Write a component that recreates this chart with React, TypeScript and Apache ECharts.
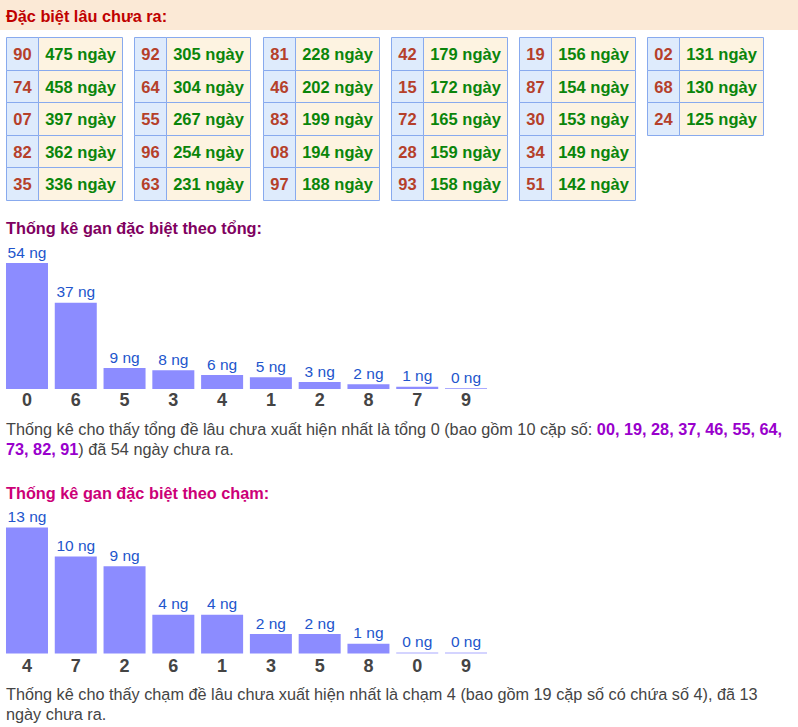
import React, { useEffect, useRef } from "react";
import * as echarts from "echarts";

const headerTitle = "Đặc biệt lâu chưa ra:";
const tableNumbers = [
  ["90", "74", "07", "82", "35"],
  ["92", "64", "55", "96", "63"],
  ["81", "46", "83", "08", "97"],
  ["42", "15", "72", "28", "93"],
  ["19", "87", "30", "34", "51"],
  ["02", "68", "24"],
];
const tableDays = [
  [475, 458, 397, 362, 336],
  [305, 304, 267, 254, 231],
  [228, 202, 199, 194, 188],
  [179, 172, 165, 159, 158],
  [156, 154, 153, 149, 142],
  [131, 130, 125],
];

const tongTitle = "Thống kê gan đặc biệt theo tổng:";
const tongCategories = ["0", "6", "5", "3", "4", "1", "2", "8", "7", "9"];
const tongValues = [54, 37, 9, 8, 6, 5, 3, 2, 1, 0];
const tongLine1 = "Thống kê cho thấy tổng đề lâu chưa xuất hiện nhất là tổng 0 (bao gồm 10 cặp số: ";
const tongPairs1 = "00, 19, 28, 37, 46, 55, 64,";
const tongPairs2 = "73, 82, 91";
const tongLine2 = ") đã 54 ngày chưa ra.";

const chamTitle = "Thống kê gan đặc biệt theo chạm:";
const chamCategories = ["4", "7", "2", "6", "1", "3", "5", "8", "0", "9"];
const chamValues = [13, 10, 9, 4, 4, 2, 2, 1, 0, 0];
const chamLine1 = "Thống kê cho thấy chạm đề lâu chưa xuất hiện nhất là chạm 4 (bao gồm 19 cặp số có chứa số 4), đã 13";
const chamLine2 = "ngày chưa ra.";

const FONT = "'Liberation Sans', Arial, sans-serif";

export default function App() {
  const ref = useRef<HTMLDivElement>(null);
  useEffect(() => {
    if (!ref.current) return;
    const chart = echarts.init(ref.current, null, { renderer: "svg" });

    const cells: { t: number; r: number; num: string; days: number }[] = [];
    tableNumbers.forEach((col, t) =>
      col.forEach((num, r) => cells.push({ t, r, num, days: tableDays[t][r] }))
    );

    const barSeries = (values: number[], idx: number) => ({
      type: "bar",
      xAxisIndex: idx,
      yAxisIndex: idx,
      barWidth: 42,
      barMinHeight: 1,
      data: values.map((v) => ({
        value: v,
        itemStyle: v === 0 ? { color: "#aaaaff" } : undefined,
      })),
      itemStyle: { color: "#8c8cff" },
      label: {
        show: true,
        position: "top",
        distance: 3,
        formatter: "{c} ng",
        color: "#2255cc",
        fontSize: 15.5,
        fontFamily: FONT,
      },
    });

    const catAxis = (cats: string[], idx: number, margin: number) => ({
      type: "category",
      gridIndex: idx,
      data: cats,
      axisLine: { show: false },
      axisTick: { show: false },
      axisLabel: {
        color: "#444",
        fontWeight: "bold",
        fontSize: 18,
        fontFamily: FONT,
        margin,
      },
    });

    const valAxis = (idx: number, max: number, inverse = false) => ({
      type: "value",
      gridIndex: idx,
      min: 0,
      max,
      inverse,
      show: false,
      splitLine: { show: false },
    });

    const rich = { p: { fill: "#9900cc", fontWeight: "bold", fontSize: 16.25, fontFamily: FONT } };

    chart.setOption({
      animation: false,
      grid: [
        { left: 6, top: 37, width: 769.6, height: 162.5 },
        { left: 2.6, top: 263, width: 487.8, height: 126 },
        { left: 2.6, top: 527.5, width: 487.8, height: 126 },
      ],
      xAxis: [
        { type: "value", gridIndex: 0, min: 0, max: 6, show: false, splitLine: { show: false } },
        catAxis(tongCategories, 1, 2),
        catAxis(chamCategories, 2, 3),
      ],
      yAxis: [
        valAxis(0, 5, true),
        valAxis(1, Math.max(...tongValues)),
        valAxis(2, Math.max(...chamValues)),
      ],
      graphic: [
        { type: "rect", shape: { x: 0, y: 0, width: 798, height: 30 }, style: { fill: "#fbe9d6" }, z: -1 },
        {
          type: "text",
          x: 6,
          y: 15.5,
          style: { text: headerTitle, fill: "#c00000", font: `bold 16.3px ${FONT}`, verticalAlign: "middle" },
        },
        {
          type: "text",
          x: 6,
          y: 228,
          style: { text: tongTitle, fill: "#800060", font: `bold 16.3px ${FONT}`, verticalAlign: "middle" },
        },
        {
          type: "text",
          x: 6,
          y: 429,
          style: {
            text: tongLine1 + "{p|" + tongPairs1 + "}",
            fill: "#444",
            font: `16.25px ${FONT}`,
            verticalAlign: "middle",
            rich,
          },
        },
        {
          type: "text",
          x: 6,
          y: 449,
          style: {
            text: "{p|" + tongPairs2 + "}" + tongLine2,
            fill: "#444",
            font: `16.25px ${FONT}`,
            verticalAlign: "middle",
            rich,
          },
        },
        {
          type: "text",
          x: 6,
          y: 492.5,
          style: { text: chamTitle, fill: "#cc0077", font: `bold 16.3px ${FONT}`, verticalAlign: "middle" },
        },
        {
          type: "text",
          x: 6,
          y: 694,
          style: { text: chamLine1, fill: "#444", font: `16.25px ${FONT}`, verticalAlign: "middle" },
        },
        {
          type: "text",
          x: 6,
          y: 714,
          style: { text: chamLine2, fill: "#444", font: `16.25px ${FONT}`, verticalAlign: "middle" },
        },
      ],
      series: [
        {
          type: "custom",
          xAxisIndex: 0,
          yAxisIndex: 0,
          data: cells.map((c) => [c.t, c.r]),
          renderItem: (params: any, api: any) => {
            const c = cells[params.dataIndex];
            const p = api.coord([c.t, c.r]);
            const s = api.size([1, 1]);
            const x = Math.round(p[0]) + 0.5;
            const y = Math.round(p[1]) + 0.5;
            const h = Math.round(s[1] + (p[1] % 1));
            const numW = 32;
            const dayW = 84;
            return {
              type: "group",
              children: [
                {
                  type: "rect",
                  shape: { x, y, width: numW, height: h },
                  style: { fill: "#deebfc", stroke: "#88aaee", lineWidth: 1 },
                },
                {
                  type: "rect",
                  shape: { x: x + numW, y, width: dayW, height: h },
                  style: { fill: "#fdf3e1", stroke: "#88aaee", lineWidth: 1 },
                },
                {
                  type: "text",
                  x: x + numW / 2,
                  y: y + s[1] / 2,
                  style: {
                    text: c.num,
                    fill: "#b5402a",
                    font: `bold 16.5px ${FONT}`,
                    align: "center",
                    verticalAlign: "middle",
                  },
                },
                {
                  type: "text",
                  x: x + numW + dayW / 2,
                  y: y + s[1] / 2,
                  style: {
                    text: c.days + " ngày",
                    fill: "#0a850a",
                    font: `bold 16.5px ${FONT}`,
                    align: "center",
                    verticalAlign: "middle",
                  },
                },
              ],
            };
          },
        },
        barSeries(tongValues, 1),
        barSeries(chamValues, 2),
      ],
    });
    return () => chart.dispose();
  }, []);
  return (
    <div
      ref={ref}
      style={{ position: "absolute", left: 0, top: 0, width: 798, height: 727, background: "#fff" }}
    />
  );
}
